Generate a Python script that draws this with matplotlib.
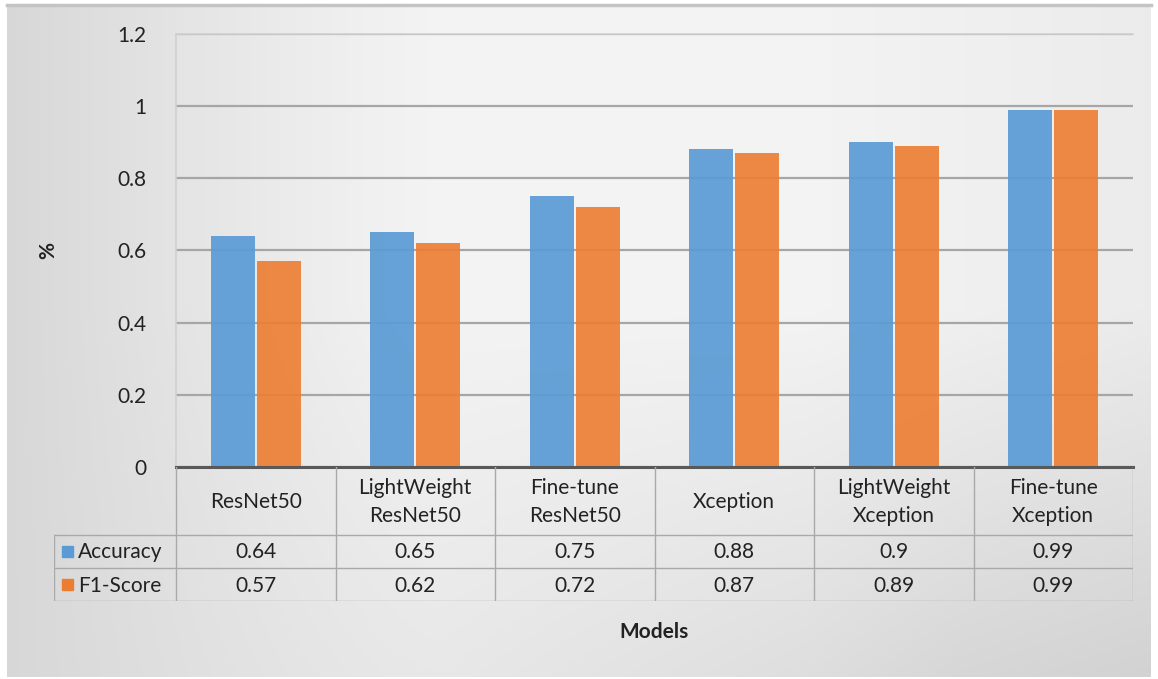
import numpy as np
import matplotlib
matplotlib.use("Agg")
import matplotlib.pyplot as plt

plt.rcParams['font.family'] = ['Lato', 'DejaVu Sans']

models = ["ResNet50", "LightWeight\nResNet50", "Fine-tune\nResNet50",
          "Xception", "LightWeight\nXception", "Fine-tune\nXception"]
series_names = ["Accuracy", "F1-Score"]
accuracy = [0.64, 0.65, 0.75, 0.88, 0.90, 0.99]
f1_score = [0.57, 0.62, 0.72, 0.87, 0.89, 0.99]
accuracy_labels = ["0.64", "0.65", "0.75", "0.88", "0.9", "0.99"]
f1_labels = ["0.57", "0.62", "0.72", "0.87", "0.89", "0.99"]
y_ticks = [0, 0.2, 0.4, 0.6, 0.8, 1.0, 1.2]
y_tick_labels = ["0", "0.2", "0.4", "0.6", "0.8", "1", "1.2"]

BLUE = "#5B9BD5"
ORANGE = "#ED7D31"
TEXT = "#222222"
GRID = "#a6a6a6"
TABLE_LINE = "#a9a9a9"
FS = 15

W, H = 1158, 679
fig = plt.figure(figsize=(W / 100, H / 100), dpi=100)
fig.patch.set_facecolor("white")

def fx(px):
    return px / W

def fy(py):
    return 1 - py / H

# chart background with a soft gradient
bg_left, bg_top, bg_right, bg_bottom = 7, 5, 1151, 677
bg = fig.add_axes([fx(bg_left), fy(bg_bottom), fx(bg_right - bg_left), (bg_bottom - bg_top) / H])
bg.set_axis_off()
xx, yy = np.meshgrid(np.linspace(0, 1, 400), np.linspace(0, 1, 250))
val = (0.955
       - 0.11 * np.clip((0.38 - xx) / 0.38, 0, 1) ** 1.2
       - 0.10 * np.clip((yy - 0.45) / 0.55, 0, 1) * np.clip(xx * 1.2, 0, 1)
       - 0.03 * np.clip((xx - 0.7) / 0.3, 0, 1))
rgb = np.dstack([val, val, val])
bg.imshow(rgb, aspect="auto", extent=[0, 1, 1, 0], interpolation="bilinear")
bg.set_xlim(0, 1)
bg.set_ylim(1, 0)
# top border
fig.add_artist(plt.Line2D([fx(bg_left), fx(bg_right)], [fy(bg_top), fy(bg_top)],
                          color="#c4c4c4", lw=2.5, transform=fig.transFigure))

# main plot area
pl, pr, pt, pb = 176, 1133, 34, 467
ax = fig.add_axes([fx(pl), fy(pb), fx(pr - pl), (pb - pt) / H])
ax.patch.set_alpha(0)
x = np.arange(len(models))
bw = 0.275
ax.bar(x - bw / 2 - 0.006, accuracy, bw, color=BLUE, alpha=0.93, zorder=3,
       edgecolor="none")
ax.bar(x + bw / 2 + 0.006, f1_score, bw, color=ORANGE, alpha=0.9, zorder=3,
       edgecolor="none")
ax.set_xlim(-0.5, len(models) - 0.5)
ax.set_ylim(0, 1.2)
ax.set_yticks(y_ticks)
ax.set_yticklabels(y_tick_labels, fontsize=FS, color=TEXT)
ax.set_xticks([])
ax.tick_params(axis="y", length=0, pad=21)
ax.yaxis.grid(True, color=GRID, lw=1.6, zorder=1)
for side in ["top", "left", "right"]:
    ax.spines[side].set_color("#d0d0d0")
    ax.spines[side].set_linewidth(1.2)
ax.spines["right"].set_visible(False)
ax.spines["bottom"].set_color("#595959")
ax.spines["bottom"].set_linewidth(2.2)
ax.spines["bottom"].set_zorder(5)
ax.set_ylabel("%", fontsize=FS, fontweight="bold", color=TEXT)
ax.yaxis.set_label_coords((58 - pl) / (pr - pl), 0.5)

# data table underneath
tl, tr, tt, tb = 54, 1133, 467, 601
row_h = [68, 33, 33]
legend_w = (pl - tl) / ((pr - pl) / len(models))
tax = fig.add_axes([fx(tl), fy(tb), fx(tr - tl), (tb - tt) / H])
tax.set_axis_off()
tax.set_xlim(-0.5 - legend_w, len(models) - 0.5)
tax.set_ylim(sum(row_h), 0)

y_head = row_h[0]
y_r1 = row_h[0] + row_h[1]
y_r2 = sum(row_h)
lk = dict(color=TABLE_LINE, lw=1.0)
# horizontal rules
tax.plot([-0.5 - legend_w, len(models) - 0.5], [y_head, y_head], **lk)
tax.plot([-0.5 - legend_w, len(models) - 0.5], [y_r1, y_r1], **lk)
tax.plot([-0.5 - legend_w, len(models) - 0.5], [y_r2, y_r2], **lk)
# vertical rules
for i in range(len(models) + 1):
    tax.plot([i - 0.5, i - 0.5], [0, y_r2], **lk)
tax.plot([-0.5 - legend_w, -0.5 - legend_w], [y_head, y_r2], **lk)

for i, name in enumerate(models):
    tax.text(i, y_head / 2 + 1, name, ha="center", va="center", fontsize=FS,
             color=TEXT, linespacing=1.5)
    tax.text(i, (y_head + y_r1) / 2 + 1, accuracy_labels[i], ha="center",
             va="center", fontsize=FS, color=TEXT)
    tax.text(i, (y_r1 + y_r2) / 2 + 1, f1_labels[i], ha="center",
             va="center", fontsize=FS, color=TEXT)

px_per_unit = (pr - pl) / len(models)
sq = 11 / px_per_unit
for name, color, y0, y1 in [(series_names[0], BLUE, y_head, y_r1),
                            (series_names[1], ORANGE, y_r1, y_r2)]:
    xs = -0.5 - legend_w + 8 / px_per_unit
    yc = (y0 + y1) / 2
    tax.add_patch(plt.Rectangle((xs, yc - 5.5), sq, 11, color=color))
    tax.text(xs + sq + 5 / px_per_unit, yc + 1, name, ha="left", va="center",
             fontsize=FS, color=TEXT)

fig.text(fx(654), fy(632), "Models", ha="center", va="center", fontsize=FS,
         fontweight="bold", color=TEXT)

fig.savefig("out.png", dpi=100)
